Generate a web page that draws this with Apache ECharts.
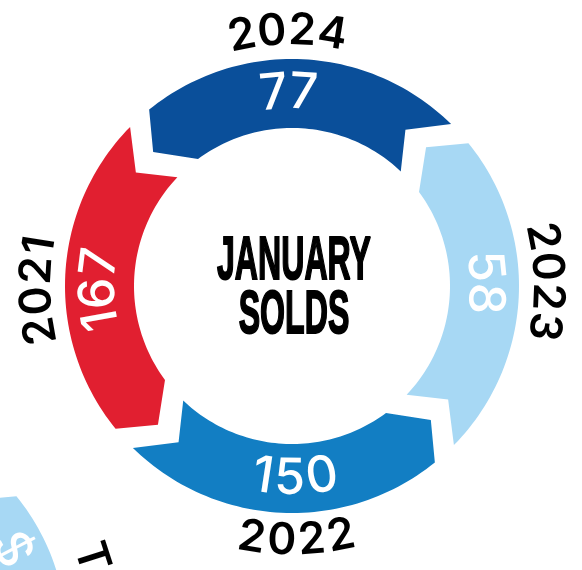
<!DOCTYPE html>
<html>
<head>
<meta charset="utf-8">
<script src="https://cdn.jsdelivr.net/npm/echarts@6/dist/echarts.min.js"></script>
<style>
  html, body { margin: 0; padding: 0; background: #fff; }
  #main { width: 582px; height: 570px; }
</style>
</head>
<body>
<div id="main"></div>
<script>
// ---- data ----
const years = ['2021', '2022', '2023', '2024'];
const solds = [167, 150, 58, 77];
const segColors = ['#E11F30', '#127EC3', '#A7D8F4', '#0A4F9A'];
const title = ['JANUARY', 'SOLDS'];

// neighbouring chart, only a corner of it shows
const otherSlots = [2];
const otherLabels = ['$'];
const otherTitle = 'T';

// ring geometry, radius axis units are px
const R_OUT = 227, R_IN = 158, R_MID = 193, R_YEAR = 255;
const START = 224;   // tail of the first segment, deg clockwise from 3 o'clock
const STEP = 90;

const valueFont = '500 50px Inter';
const yearFont = '600 44px Inter';
const titleFont = 'bold 62px "Liberation Sans"';

const measureCtx = document.createElement('canvas').getContext('2d');
const norm = (a) => ((a % 360) + 360) % 360;

function arc(api, r, a0, a1, n) {
  const pts = [];
  for (let k = 0; k <= n; k++) pts.push(api.coord([r, norm(a0 + (a1 - a0) * k / n)]));
  return pts;
}

// arrow shaped ring piece, pointing counterclockwise
function segmentPoints(api, t) {
  return [].concat(
    arc(api, R_OUT, t + 0.5, t - 83, 60),
    [api.coord([R_MID, norm(t - STEP)])],
    arc(api, R_IN, t - 80.5, t - 0.5, 60),
    [api.coord([R_MID, norm(t - 8)])]
  );
}

// text laid out char by char along a circle
function curvedText(api, str, angle, radius, font, fill, spacing) {
  const chars = String(str).split('');
  measureCtx.font = font;
  const widths = chars.map(c => measureCtx.measureText(c).width);
  const total = widths.reduce((a, b) => a + b, 0) + spacing * (chars.length - 1);
  const c0 = api.coord([0, norm(angle)]);
  const c1 = api.coord([radius, norm(angle)]);
  const rPx = Math.hypot(c1[0] - c0[0], c1[1] - c0[1]);
  const inward = Math.sin(angle * Math.PI / 180) > 0.7; // bottom: read left to right
  const dir = inward ? -1 : 1;
  let s = -total / 2;
  return chars.map((ch, i) => {
    const mid = s + widths[i] / 2;
    s += widths[i] + spacing;
    const a = angle + dir * mid / rPx * 180 / Math.PI;
    const p = api.coord([radius, norm(a)]);
    return {
      type: 'text',
      x: p[0],
      y: p[1],
      rotation: (inward ? 90 - a : 270 - a) * Math.PI / 180,
      style: { text: ch, font: font, fill: fill, align: 'center', verticalAlign: 'middle' }
    };
  });
}

measureCtx.font = titleFont;
const titleScale = 154 / measureCtx.measureText(title[0]).width;

const chart = echarts.init(document.getElementById('main'));

const option = {
  backgroundColor: '#fff',
  animation: false,
  polar: [
    { center: [292, 286], radius: R_OUT },
    { center: [-160, 639], radius: R_OUT }
  ],
  angleAxis: [
    { polarIndex: 0, type: 'value', min: 0, max: 360, startAngle: 0, clockwise: true, show: false },
    { polarIndex: 1, type: 'value', min: 0, max: 360, startAngle: 0, clockwise: true, show: false }
  ],
  radiusAxis: [
    { polarIndex: 0, type: 'value', min: 0, max: R_OUT, show: false },
    { polarIndex: 1, type: 'value', min: 0, max: R_OUT, show: false }
  ],
  series: [
    {
      type: 'custom',
      coordinateSystem: 'polar',
      polarIndex: 0,
      data: solds.map((v, i) => [i, v]),
      renderItem: (params, api) => {
        const i = api.value(0);
        const t = START - STEP * i;
        const mid = t - STEP / 2;
        return {
          type: 'group',
          children: [
            { type: 'polygon', shape: { points: segmentPoints(api, t) }, style: { fill: segColors[i] } }
          ].concat(
            curvedText(api, api.value(1), mid, R_MID, valueFont, '#fff', 1),
            curvedText(api, years[i], mid, R_YEAR, yearFont, '#000', 2)
          )
        };
      }
    },
    {
      type: 'custom',
      coordinateSystem: 'polar',
      polarIndex: 1,
      data: otherSlots.map((s, i) => [s, i]),
      renderItem: (params, api) => {
        const slot = api.value(0);
        const t = START - STEP * slot;
        return {
          type: 'group',
          children: [
            { type: 'polygon', shape: { points: segmentPoints(api, t) }, style: { fill: segColors[slot] } }
          ].concat(
            curvedText(api, otherLabels[api.value(1)], 332.5, R_MID, valueFont, '#fff', 1),
            curvedText(api, otherTitle, 342, 264, yearFont, '#000', 2)
          )
        };
      }
    }
  ],
  graphic: [
    {
      type: 'text', x: 294, y: 262, scaleX: titleScale,
      style: {
        text: title[0], font: titleFont, fill: '#000',
        stroke: '#000', lineWidth: 2, align: 'center', verticalAlign: 'middle'
      }
    },
    {
      type: 'text', x: 294, y: 316, scaleX: titleScale,
      style: {
        text: title[1], font: titleFont, fill: '#000',
        stroke: '#000', lineWidth: 2, align: 'center', verticalAlign: 'middle'
      }
    }
  ]
};

chart.setOption(option);
</script>
</body>
</html>
